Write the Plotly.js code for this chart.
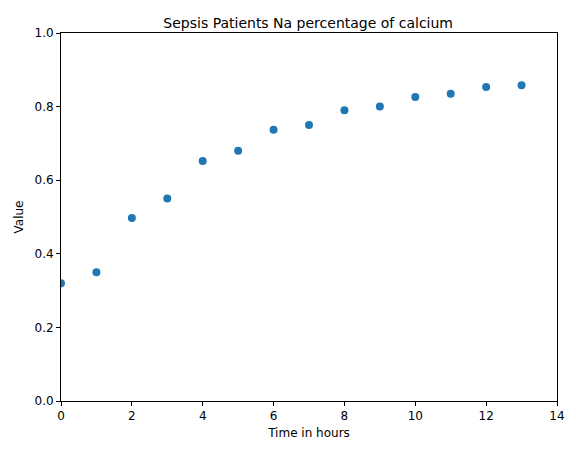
<html><head><script src="https://cdn.plot.ly/plotly-3.0.1.min.js"></script></head>
<body style="margin:0"><div id="plot" style="width:576px;height:455px"></div>
<script>
var hours = [0,1,2,3,4,5,6,7,8,9,10,11,12,13]
var values = [0.32,0.35,0.497,0.55,0.652,0.68,0.737,0.75,0.79,0.80,0.826,0.835,0.853,0.858]

var data = [{
    x: hours, y: values, type: "scatter", mode: "markers",
    marker: {color: "#1f77b4", size: 8}, cliponaxis: true
}]

var axis = {
    showgrid: false, zeroline: false, showline: true, mirror: true,
    linecolor: "black", linewidth: 1, ticks: "outside", ticklen: 4,
    tickcolor: "black", tickfont: {size: 12, color: "black"}
}

var layout = {
    width: 576, height: 455,
    margin: {l: 61, r: 19, t: 33, b: 54},
    font: {family: "DejaVu Sans", color: "black"},
    title: {text: "Sepsis Patients Na percentage of calcium", font: {size: 14}, x: 0.535, y: 0.96, xanchor: "center"},
    xaxis: Object.assign({}, axis, {range: [0, 14], dtick: 2, title: {text: "Time in hours", font: {size: 12}, standoff: 6}}),
    yaxis: Object.assign({}, axis, {range: [0, 1], dtick: 0.2, tickformat: ".1f", title: {text: "Value", font: {size: 12}, standoff: 8}}),
    showlegend: false,
    plot_bgcolor: "white", paper_bgcolor: "white"
}

Plotly.newPlot("plot", data, layout, {displayModeBar: false})
</script></body></html>
